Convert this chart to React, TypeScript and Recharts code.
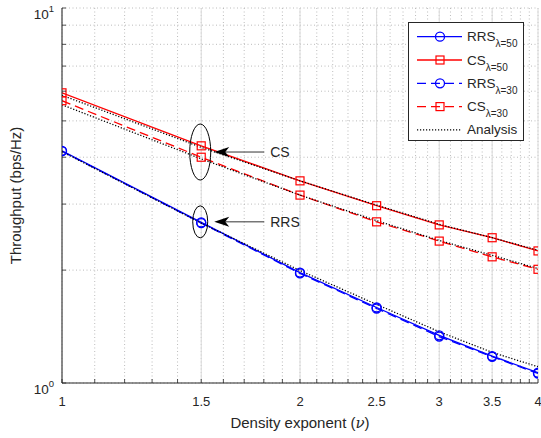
import React from 'react';
import { LineChart, Line, XAxis, YAxis, CartesianGrid, ReferenceDot } from 'recharts';

// density exponent values (x) and throughput in bps/Hz
const nu = [1, 1.5, 2, 2.5, 3, 3.5, 4];
const rrs50 = [4.16, 2.68, 1.97, 1.59, 1.34, 1.18, 1.065];
const cs50 = [5.94, 4.29, 3.46, 2.97, 2.64, 2.44, 2.25];
const rrs30 = [4.15, 2.67, 1.96, 1.58, 1.33, 1.175, 1.06];
const cs30 = [5.66, 4.0, 3.17, 2.69, 2.39, 2.17, 2.01];
const anaRrs = [4.14, 2.67, 1.995, 1.62, 1.37, 1.207, 1.105];
const anaCs50 = [5.85, 4.25, 3.46, 2.98, 2.65, 2.44, 2.26];
const anaCs30 = [5.52, 3.96, 3.17, 2.71, 2.4, 2.19, 2.02];

const xMajor = [1, 1.5, 2, 2.5, 3, 3.5, 4];
const xMajorLabels = ['1', '1.5', '2', '2.5', '3', '3.5', '4'];
const xMinor = Array.from({ length: 31 }, (_, i) => Math.round(10 + i) / 10);
const yTicks = [1, 2, 3, 4, 5, 6, 7, 8, 9, 10];
const yLabelled = [1, 10];
const yExponents = ['0', '1'];

const annotations = [
  { x: 1.5, y: 4.13, rx: 10.5, ry: 28, label: 'CS' },
  { x: 1.5, y: 2.69, rx: 7.5, ry: 16, label: 'RRS' },
];

const FONT = '"Liberation Sans", Arial, Helvetica, sans-serif';
const INK = '#262626';
const BLUE = '#0000ff';
const RED = '#ff0000';

const data = nu.map((v, i) => ({
  nu: v,
  rrs50: rrs50[i],
  cs50: cs50[i],
  rrs30: rrs30[i],
  cs30: cs30[i],
  anaRrs: anaRrs[i],
  anaCs50: anaCs50[i],
  anaCs30: anaCs30[i],
}));

const circleDot = (color: string) => (p: any) => (
  <circle key={`c-${p.index}`} cx={p.cx} cy={p.cy} r={4.5} fill="none" stroke={color} strokeWidth={1.3} />
);
const squareDot = (color: string) => (p: any) => (
  <rect key={`s-${p.index}`} x={p.cx - 4} y={p.cy - 4} width={8} height={8} fill="none" stroke={color} strokeWidth={1.2} />
);

const BottomTick = (p: any) => {
  const idx = xMajor.findIndex((m) => Math.abs(m - p.payload.value) < 1e-6);
  return (
    <g>
      <line x1={p.x} x2={p.x} y1={p.y} y2={p.y - 4} stroke={INK} strokeWidth={0.8} />
      {idx >= 0 && (
        <text x={p.x} y={p.y + 23} textAnchor="middle" fontSize={13} fill={INK} fontFamily={FONT}>
          {xMajorLabels[idx]}
        </text>
      )}
    </g>
  );
};

const TopTick = (p: any) => (
  <line x1={p.x} x2={p.x} y1={p.y} y2={p.y + 4} stroke={INK} strokeWidth={0.8} />
);

const LeftTick = (p: any) => {
  const idx = yLabelled.indexOf(p.payload.value);
  return (
    <g>
      <line x1={p.x} x2={p.x + 4} y1={p.y} y2={p.y} stroke={INK} strokeWidth={0.8} />
      {idx >= 0 && (
        <text x={p.x - 8} y={p.y + 10.5} textAnchor="end" fontSize={13.5} fill={INK} fontFamily={FONT}>
          <tspan>10</tspan>
          <tspan dy={-7} fontSize={9.5}>{yExponents[idx]}</tspan>
        </text>
      )}
    </g>
  );
};

const RightTick = (p: any) => (
  <line x1={p.x} x2={p.x - 4} y1={p.y} y2={p.y} stroke={INK} strokeWidth={0.8} />
);

const annotationShape = (a: (typeof annotations)[number]) => (p: any) => {
  const tx = p.cx + 13;
  const ty = p.cy;
  return (
    <g>
      <ellipse cx={p.cx - 1} cy={p.cy} rx={a.rx} ry={a.ry} fill="none" stroke="#000" strokeWidth={1} />
      <line x1={tx + 10} x2={tx + 50} y1={ty} y2={ty} stroke="#333" strokeWidth={1} />
      <polygon points={`${tx},${ty} ${tx + 15},${ty - 5} ${tx + 11},${ty} ${tx + 15},${ty + 5}`} fill="#000" />
      <text x={tx + 56} y={ty + 5} fontSize={14} fill={INK} fontFamily={FONT}>
        {a.label}
      </text>
    </g>
  );
};

const legendItems = [
  { name: 'RRS', sub: 'λ=50', color: BLUE, dash: undefined, marker: 'circle' },
  { name: 'CS', sub: 'λ=50', color: RED, dash: undefined, marker: 'square' },
  { name: 'RRS', sub: 'λ=30', color: BLUE, dash: '9 5', marker: 'circle' },
  { name: 'CS', sub: 'λ=30', color: RED, dash: '9 5', marker: 'square' },
  { name: 'Analysis', sub: '', color: '#000', dash: '1.2 1.8', marker: 'none' },
];

const LegendBox = () => (
  <svg
    width={116}
    height={119}
    style={{ position: 'absolute', left: 408, top: 22, fontFamily: FONT }}
  >
    <rect x={0.5} y={0.5} width={115} height={118} fill="#fff" stroke={INK} strokeWidth={1} />
    {legendItems.map((it, i) => {
      const y = 14.7 + i * 23.3;
      return (
        <g key={i}>
          <line x1={9} x2={54} y1={y} y2={y} stroke={it.color} strokeWidth={1.3} strokeDasharray={it.dash} />
          {it.marker === 'circle' && <circle cx={32} cy={y} r={4.5} fill="none" stroke={it.color} strokeWidth={1.3} />}
          {it.marker === 'square' && (
            <rect x={28} y={y - 4} width={8} height={8} fill="none" stroke={it.color} strokeWidth={1.2} />
          )}
          <text x={59} y={y + 4.5} fontSize={13.5} fill={INK}>
            <tspan>{it.name}</tspan>
            {it.sub && (
              <tspan dy={6} fontSize={10}>
                {it.sub}
              </tspan>
            )}
          </text>
        </g>
      );
    })}
  </svg>
);

export default function App() {
  return (
    <div style={{ position: 'absolute', left: 0, top: 0, width: 541, height: 438, background: '#fff' }}>
      <LineChart width={541} height={438} data={data} margin={{ top: 8, right: 3, left: 0, bottom: 0 }}>
        <CartesianGrid strokeDasharray="1 2.5" stroke="#b4b4b4" strokeWidth={0.9} />
        <CartesianGrid xAxisId="major" horizontal={false} stroke="#dadada" strokeWidth={1} />
        <XAxis
          dataKey="nu"
          type="number"
          scale="log"
          domain={[1, 4]}
          ticks={xMinor}
          interval={0}
          allowDataOverflow
          height={55}
          tickSize={0}
          tickMargin={0}
          tick={<BottomTick />}
          axisLine={{ stroke: INK, strokeWidth: 1 }}
          tickLine={false}
        />
        <XAxis xAxisId="major" dataKey="nu" type="number" scale="log" domain={[1, 4]} ticks={[1.5, 2, 2.5, 3, 3.5]} interval={0} allowDataOverflow hide />
        <XAxis
          xAxisId="top"
          orientation="top"
          dataKey="nu"
          type="number"
          scale="log"
          domain={[1, 4]}
          ticks={xMinor}
          interval={0}
          allowDataOverflow
          height={0}
          tickSize={0}
          tickMargin={0}
          tick={<TopTick />}
          axisLine={{ stroke: INK, strokeWidth: 1 }}
          tickLine={false}
        />
        <YAxis
          type="number"
          scale="log"
          domain={[1, 10]}
          ticks={yTicks}
          interval={0}
          allowDataOverflow
          width={62}
          tickSize={0}
          tickMargin={0}
          tick={<LeftTick />}
          axisLine={{ stroke: INK, strokeWidth: 1 }}
          tickLine={false}
        />
        <YAxis
          yAxisId="right"
          orientation="right"
          type="number"
          scale="log"
          domain={[1, 10]}
          ticks={yTicks}
          interval={0}
          allowDataOverflow
          width={0}
          tickSize={0}
          tickMargin={0}
          tick={<RightTick />}
          axisLine={{ stroke: INK, strokeWidth: 1 }}
          tickLine={false}
        />
        <Line dataKey="rrs50" stroke={BLUE} strokeWidth={1.3} dot={circleDot(BLUE)} isAnimationActive={false} />
        <Line dataKey="cs50" stroke={RED} strokeWidth={1.3} dot={squareDot(RED)} isAnimationActive={false} />
        <Line dataKey="rrs30" stroke={BLUE} strokeWidth={1.3} strokeDasharray="9 5" dot={circleDot(BLUE)} isAnimationActive={false} />
        <Line dataKey="cs30" stroke={RED} strokeWidth={1.3} strokeDasharray="9 5" dot={squareDot(RED)} isAnimationActive={false} />
        <Line dataKey="anaRrs" stroke="#000" strokeWidth={1.3} strokeDasharray="1.2 1.8" dot={false} isAnimationActive={false} />
        <Line dataKey="anaCs50" stroke="#000" strokeWidth={1.3} strokeDasharray="1.2 1.8" dot={false} isAnimationActive={false} />
        <Line dataKey="anaCs30" stroke="#000" strokeWidth={1.3} strokeDasharray="1.2 1.8" dot={false} isAnimationActive={false} />
        {annotations.map((a, i) => (
          <ReferenceDot key={i} x={a.x} y={a.y} r={0} shape={annotationShape(a)} />
        ))}
        <text
          x={21}
          y={195.5}
          transform="rotate(-90 21 195.5)"
          textAnchor="middle"
          fontSize={15}
          fill={INK}
          fontFamily={FONT}
        >
          Throughput (bps/Hz)
        </text>
        <text x={300} y={428} textAnchor="middle" fontSize={15} fill={INK} fontFamily={FONT}>
          Density exponent (<tspan fontStyle="italic" fontFamily="DejaVu Serif">ν</tspan>)
        </text>
      </LineChart>
      <LegendBox />
    </div>
  );
}
